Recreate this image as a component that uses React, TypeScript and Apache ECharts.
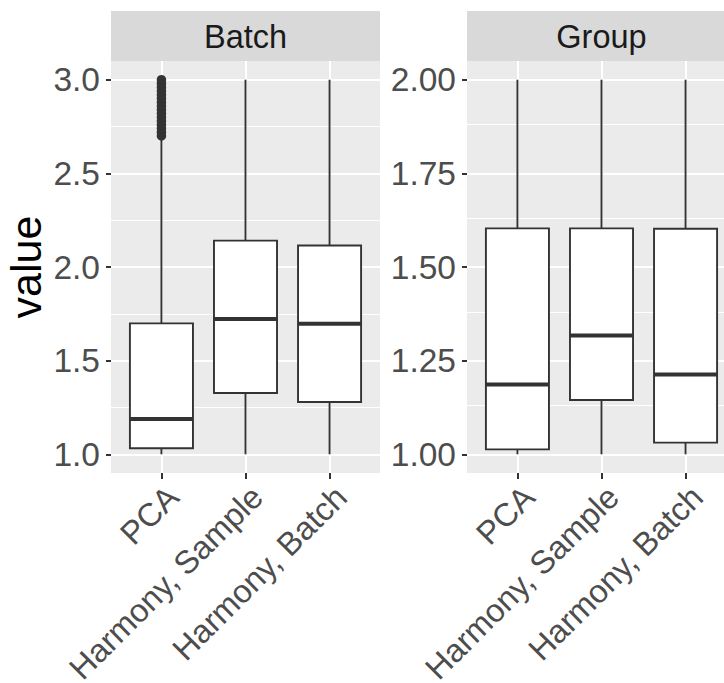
import React, { useEffect, useRef } from 'react';
import * as echarts from 'echarts';

const FONT = '"Liberation Sans", Arial, Helvetica, sans-serif';

const categories = ['PCA', 'Harmony, Sample', 'Harmony, Batch'];
const panelTitles = ['Batch', 'Group'];

// Batch panel box statistics
const batchLower = [1.0, 1.0, 1.0];
const batchQ1 = [1.032, 1.327, 1.279];
const batchMedian = [1.188, 1.722, 1.697];
const batchQ3 = [1.699, 2.141, 2.115];
const batchUpper = [2.68, 3.0, 3.0];
const batchOutliersPCA = [2.7, 2.72, 2.74, 2.76, 2.78, 2.8, 2.82, 2.84, 2.86, 2.88, 2.9, 2.92, 2.94, 2.96, 2.98, 3.0];

// Group panel box statistics
const groupLower = [1.0, 1.0, 1.0];
const groupQ1 = [1.013, 1.145, 1.031];
const groupMedian = [1.186, 1.317, 1.213];
const groupQ3 = [1.603, 1.603, 1.602];
const groupUpper = [2.0, 2.0, 2.0];

// Axis ticks
const batchTicks = [1.0, 1.5, 2.0, 2.5, 3.0];
const batchMinor = [1.25, 1.75, 2.25, 2.75];
const groupTicks = [1.0, 1.25, 1.5, 1.75, 2.0];
const groupMinor = [1.125, 1.375, 1.625, 1.875];
const batchRange = [0.9, 3.1];
const groupRange = [0.95, 2.05];

const xPos = categories.map((_, i) => i + 1);

const rows = (lo: number[], q1: number[], med: number[], q3: number[], hi: number[]) =>
  categories.map((_, i) => [i + 1, lo[i], q1[i], med[i], q3[i], hi[i]]);

const STROKE = '#333333';
const TICK_FONT = 33.5;
const XLABEL_FONT = 32.5;

const renderBox = (params: any, api: any) => {
  const x = api.value(0);
  const pLo = api.coord([x, api.value(1)]);
  const pQ1 = api.coord([x, api.value(2)]);
  const pMed = api.coord([x, api.value(3)]);
  const pQ3 = api.coord([x, api.value(4)]);
  const pHi = api.coord([x, api.value(5)]);
  const halfW = api.size([0.75, 0])[0] / 2;
  const cx = pLo[0];
  return {
    type: 'group',
    children: [
      { type: 'line', shape: { x1: cx, y1: pLo[1], x2: cx, y2: pQ1[1] }, style: { stroke: STROKE, lineWidth: 1.9 } },
      { type: 'line', shape: { x1: cx, y1: pQ3[1], x2: cx, y2: pHi[1] }, style: { stroke: STROKE, lineWidth: 1.9 } },
      {
        type: 'rect',
        shape: { x: cx - halfW, y: pQ3[1], width: 2 * halfW, height: pQ1[1] - pQ3[1] },
        style: { fill: '#FFFFFF', stroke: STROKE, lineWidth: 1.9 },
      },
      {
        type: 'line',
        shape: { x1: cx - halfW, y1: pMed[1], x2: cx + halfW, y2: pMed[1] },
        style: { stroke: STROKE, lineWidth: 4 },
      },
    ],
  };
};

const gridLineSeries = (idx: number, major: number[], minor: number[]) => ({
  type: 'scatter',
  xAxisIndex: idx,
  yAxisIndex: idx,
  data: [],
  silent: true,
  z: 1,
  markLine: {
    silent: true,
    z: 1,
    symbol: ['none', 'none'],
    label: { show: false },
    lineStyle: { color: '#FFFFFF', type: 'solid' },
    emphasis: { disabled: true },
    data: [
      ...minor.map((v) => ({ yAxis: v, lineStyle: { color: '#FFFFFF', width: 1, type: 'solid' } })),
      ...major.map((v) => ({ yAxis: v, lineStyle: { color: '#FFFFFF', width: 2, type: 'solid' } })),
      ...xPos.map((v) => ({ xAxis: v, lineStyle: { color: '#FFFFFF', width: 2, type: 'solid' } })),
    ],
  },
});

const xAxisFor = (idx: number) => ({
  type: 'value',
  gridIndex: idx,
  min: 0.4,
  max: 3.6,
  axisLine: { show: false },
  splitLine: { show: false },
  axisTick: { show: true, customValues: xPos, length: 6, lineStyle: { color: STROKE, width: 2 } },
  axisLabel: {
    customValues: xPos,
    formatter: (v: number) => categories[Math.round(v) - 1],
    rotate: 45,
    align: 'right',
    verticalAlign: 'top',
    margin: 7,
    fontSize: XLABEL_FONT,
    color: '#4D4D4D',
    fontFamily: FONT,
  },
});

const yAxisFor = (idx: number, range: number[], ticks: number[], digits: number, withName: boolean) => ({
  type: 'value',
  gridIndex: idx,
  min: range[0],
  max: range[1],
  axisLine: { show: false },
  splitLine: { show: false },
  axisTick: { show: true, customValues: ticks, length: 5, lineStyle: { color: STROKE, width: 2 } },
  axisLabel: {
    customValues: ticks,
    formatter: (v: number) => v.toFixed(digits),
    margin: 11,
    fontSize: TICK_FONT,
    color: '#4D4D4D',
    fontFamily: FONT,
  },
  ...(withName
    ? {
        name: 'value',
        nameLocation: 'middle',
        nameRotate: 90,
        nameGap: 64,
        nameTextStyle: { fontSize: 43, color: '#000000', fontFamily: FONT },
      }
    : {}),
});

const panelLeft = [111, 467];
const panelWidth = 269;
const panelTop = 61;
const panelHeight = 412;

const option: any = {
  animation: false,
  backgroundColor: '#FFFFFF',
  textStyle: { fontFamily: FONT },
  grid: panelLeft.map((l) => ({
    left: l,
    top: panelTop,
    width: panelWidth,
    height: panelHeight,
    show: true,
    backgroundColor: '#EBEBEB',
    borderWidth: 0,
    containLabel: false,
    outerBoundsMode: 'none',
  })),
  xAxis: [xAxisFor(0), xAxisFor(1)],
  yAxis: [yAxisFor(0, batchRange, batchTicks, 1, true), yAxisFor(1, groupRange, groupTicks, 2, false)],
  graphic: panelLeft.flatMap((l, i) => [
    {
      type: 'rect',
      shape: { x: l, y: 11, width: panelWidth, height: 50 },
      style: { fill: '#D9D9D9' },
      silent: true,
    },
    {
      type: 'text',
      x: l + panelWidth / 2,
      y: 37,
      style: {
        text: panelTitles[i],
        fontSize: 32.5,
        fontFamily: FONT,
        fill: '#1A1A1A',
        align: 'center',
        verticalAlign: 'middle',
        textAlign: 'center',
        textVerticalAlign: 'middle',
      },
      silent: true,
    },
  ]),
  series: [
    gridLineSeries(0, batchTicks, batchMinor),
    gridLineSeries(1, groupTicks, groupMinor),
    {
      type: 'custom',
      xAxisIndex: 0,
      yAxisIndex: 0,
      z: 3,
      renderItem: renderBox,
      encode: { x: 0, y: [1, 2, 3, 4, 5] },
      data: rows(batchLower, batchQ1, batchMedian, batchQ3, batchUpper),
      silent: true,
    },
    {
      type: 'scatter',
      xAxisIndex: 0,
      yAxisIndex: 0,
      z: 4,
      symbol: 'circle',
      symbolSize: 9.5,
      itemStyle: { color: STROKE, opacity: 1 },
      data: batchOutliersPCA.map((v) => [1, v]),
      silent: true,
    },
    {
      type: 'custom',
      xAxisIndex: 1,
      yAxisIndex: 1,
      z: 3,
      renderItem: renderBox,
      encode: { x: 0, y: [1, 2, 3, 4, 5] },
      data: rows(groupLower, groupQ1, groupMedian, groupQ3, groupUpper),
      silent: true,
    },
  ],
};

export default function App() {
  const ref = useRef<HTMLDivElement>(null);
  useEffect(() => {
    if (!ref.current) return;
    const chart = echarts.init(ref.current, null, { renderer: 'svg' });
    chart.setOption(option);
    return () => chart.dispose();
  }, []);
  return (
    <div
      style={{
        position: 'fixed',
        left: 0,
        top: 0,
        width: 724,
        height: 683,
        overflow: 'hidden',
        background: '#FFFFFF',
      }}
    >
      <div ref={ref} style={{ width: 745, height: 683 }} />
    </div>
  );
}
